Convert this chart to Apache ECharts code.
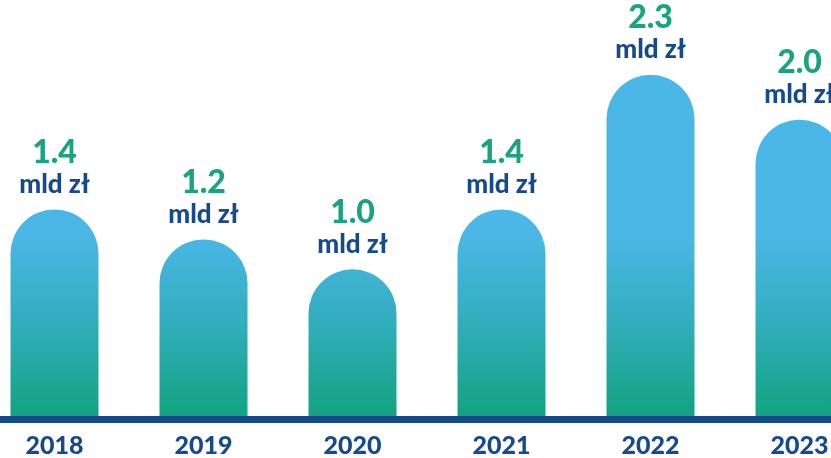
<!DOCTYPE html>
<html>
<head>
<meta charset="utf-8">
<style>
  html, body { margin: 0; padding: 0; background: #ffffff; overflow: hidden; width: 831px; height: 458px; position: relative; }
  /* the plot runs past both page edges, so the first and last bars are clipped */
  #chart { position: absolute; left: -20px; top: 0; width: 894px; height: 458px; }
</style>
<script src="https://cdn.jsdelivr.net/npm/echarts@6/dist/echarts.min.js"></script>
</head>
<body>
<div id="chart"></div>
<script>
// Yearly amounts, in billions of złoty
const years = ['2018', '2019', '2020', '2021', '2022', '2023'];
const amounts = [1.4, 1.2, 1.0, 1.4, 2.3, 2.0];
const unitLabel = 'mld zł';

const BLUE_DARK = '#164a8b';
const GREEN = '#1aa37f';

const chart = echarts.init(document.getElementById('chart'), null, { renderer: 'canvas' });

// Vertical gradient in page coordinates: sky blue high up, fading to green near the baseline
const barFill = new echarts.graphic.LinearGradient(0, 235, 0, 416, [
  { offset: 0, color: '#4bb7e6' },
  { offset: 0.5, color: '#31adbb' },
  { offset: 1, color: '#12a380' }
], true);

chart.setOption({
  animation: false,
  backgroundColor: '#ffffff',
  grid: { left: 0, right: 0, top: 0, bottom: 38.5 },
  xAxis: {
    type: 'category',
    data: years,
    z: 5,
    axisTick: { show: false },
    axisLine: { show: true, lineStyle: { color: BLUE_DARK, width: 7 } },
    axisLabel: {
      margin: 14,
      color: BLUE_DARK,
      fontFamily: 'Lato',
      fontWeight: 900,
      fontSize: 25
    }
  },
  yAxis: {
    type: 'value',
    min: 0,
    max: 2.8,
    show: false,
    splitLine: { show: false }
  },
  series: [{
    type: 'bar',
    data: amounts,
    barWidth: 88,
    itemStyle: {
      color: barFill,
      borderRadius: [44, 44, 0, 0]
    },
    label: {
      show: true,
      position: 'top',
      distance: 10,
      align: 'center',
      formatter: p => '{v|' + p.value.toFixed(1) + '}\n{u|' + unitLabel + '}',
      rich: {
        v: {
          fontFamily: 'Lato',
          fontWeight: 900,
          fontSize: 32,
          lineHeight: 34,
          color: GREEN,
          align: 'center'
        },
        u: {
          fontFamily: 'Lato',
          fontWeight: 900,
          fontSize: 26,
          lineHeight: 30,
          color: BLUE_DARK,
          align: 'center'
        }
      }
    }
  }]
});
</script>
</body>
</html>
